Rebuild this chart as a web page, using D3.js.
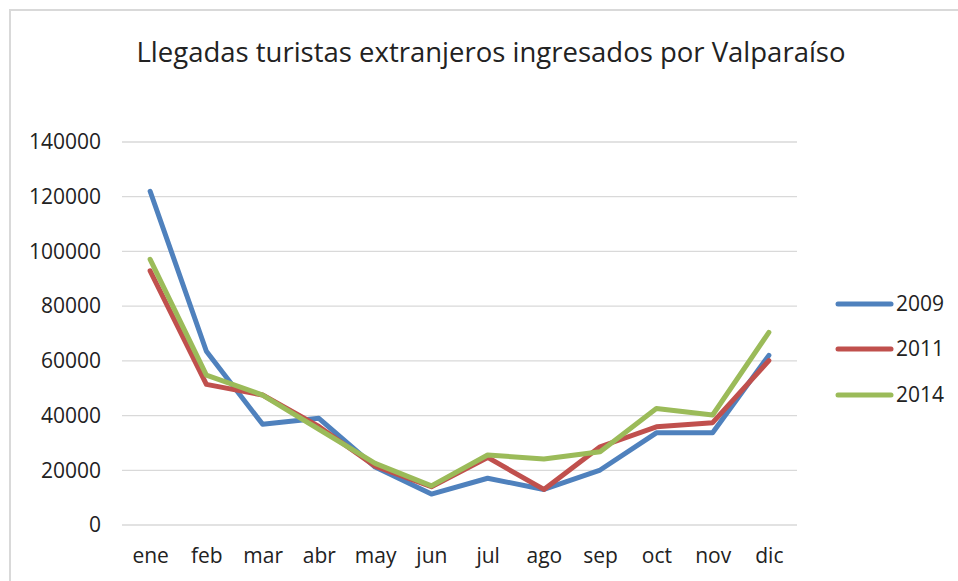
<!DOCTYPE html>
<html><head><meta charset="utf-8">
<script src="https://cdn.jsdelivr.net/npm/d3@7"></script>
<style>body{margin:0;background:#fff;} svg{display:block;} text{font-family:"Open Sans",sans-serif;fill:#222;}</style>
</head><body>
<svg id="chart" width="958" height="581"></svg>
<script>
const months = ["ene","feb","mar","abr","may","jun","jul","ago","sep","oct","nov","dic"];
const v2009 = [122000,63500,36800,39000,21200,11300,17100,13000,20100,33700,33700,62000];
const v2011 = [92900,51400,47500,36000,21500,14000,24700,13000,28600,35900,37400,60100];
const v2014 = [97100,54800,47500,35000,22500,14300,25600,24100,26800,42600,40200,70400];
const seriesNames = ["2009","2011","2014"];
const yTicks = [0,20000,40000,60000,80000,100000,120000,140000];
const title = "Llegadas turistas extranjeros ingresados por Valparaíso";

(function(){
const colors = ["#4F81BD","#C0504D","#9BBB59"];
const seriesData = [v2009, v2011, v2014];

const svg = d3.select("#chart");
svg.append("path").attr("d","M10,581 L10,10 L958,10").attr("fill","none")
  .attr("stroke","#d9d9d9").attr("stroke-width",2);

const pl = 122, pr = 797, pt = 142, pb = 525;
const x = d3.scalePoint().domain(months).range([pl, pr]).padding(0.5);
const y = d3.scaleLinear().domain([0,140000]).range([pb, pt]);

svg.append("g").selectAll("line").data(yTicks).join("line")
  .attr("x1", pl).attr("x2", pr)
  .attr("y1", d=>y(d)).attr("y2", d=>y(d))
  .attr("stroke","#d9d9d9").attr("stroke-width",1.3);

const yAxis = d3.axisLeft(y).tickValues(yTicks).tickSize(0).tickPadding(0).tickFormat(d=>String(d));
const gy = svg.append("g").attr("transform",`translate(101,0)`).call(yAxis);
gy.select(".domain").remove();
gy.selectAll("text").style("font-size","21px").style("font-family","'Open Sans',sans-serif").attr("fill","#222");

const xAxis = d3.axisBottom(x).tickSize(0).tickPadding(0);
const gx = svg.append("g").attr("transform",`translate(0,548)`).call(xAxis);
gx.select(".domain").remove();
gx.selectAll("text").style("font-size","21px").style("font-family","'Open Sans',sans-serif").attr("fill","#222");

const line = d3.line().x((d,i)=>x(months[i])).y(d=>y(d));
seriesData.forEach((s,k)=>{
  svg.append("path").datum(s).attr("d", line).attr("fill","none")
    .attr("stroke", colors[k]).attr("stroke-width",5)
    .attr("stroke-linejoin","round").attr("stroke-linecap","round");
});

const legY = [304,349,395];
seriesNames.forEach((n,k)=>{
  svg.append("line").attr("x1",838).attr("x2",891).attr("y1",legY[k]).attr("y2",legY[k])
    .attr("stroke",colors[k]).attr("stroke-width",5).attr("stroke-linecap","round");
  svg.append("text").attr("x",896).attr("y",legY[k]).attr("dy","0.35em")
    .style("font-size","21px").text(n);
});

svg.append("text").attr("x",491).attr("y",52).attr("dy","0.35em").attr("text-anchor","middle")
  .style("font-size","27.5px").text(title);
})();
</script>
</body></html>
